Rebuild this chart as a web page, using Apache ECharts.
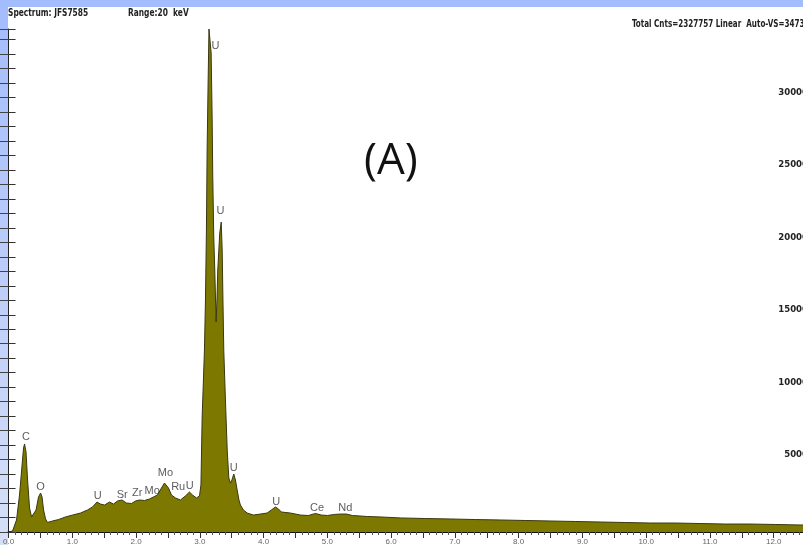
<!DOCTYPE html>
<html>
<head>
<meta charset="utf-8">
<script src="https://cdn.jsdelivr.net/npm/echarts@6/dist/echarts.min.js"></script>
<style>
  html, body { margin: 0; padding: 0; width: 803px; height: 545px; overflow: hidden; }
  body { background: linear-gradient(to bottom, #a3bcfc 0%, #bccdfa 50%, #d6e0f7 100%); position: relative; }
  #panel { position: absolute; left: 8px; top: 7px; width: 800px; height: 540px; background: #ffffff; }
  #chart { position: absolute; left: 0; top: 0; width: 820px; height: 550px; }
</style>
</head>
<body>
<div id="panel"></div>
<div id="chart"></div>
<script>
// Energy (keV) and counts
const energy = [0, 0.063, 0.125, 0.172, 0.212, 0.235, 0.251, 0.274, 0.298, 0.329, 0.361, 0.392, 0.431, 0.470, 0.502, 0.525, 0.549, 0.580, 0.611, 0.690, 0.784, 0.893, 1.003, 1.129, 1.238, 1.317, 1.387, 1.442, 1.505, 1.583, 1.646, 1.708, 1.779, 1.850, 1.928, 1.991, 2.053, 2.132, 2.210, 2.273, 2.335, 2.398, 2.445, 2.476, 2.508, 2.555, 2.618, 2.696, 2.774, 2.837, 2.884, 2.947, 2.994, 3.017, 3.036, 3.056, 3.072, 3.088, 3.103, 3.114, 3.130, 3.143, 3.158, 3.177, 3.193, 3.202, 3.218, 3.234, 3.248, 3.255, 3.268, 3.281, 3.312, 3.335, 3.350, 3.362, 3.375, 3.401, 3.429, 3.454, 3.480, 3.503, 3.532, 3.558, 3.585, 3.613, 3.636, 3.683, 3.741, 3.840, 3.950, 4.055, 4.122, 4.185, 4.232, 4.279, 4.420, 4.577, 4.702, 4.812, 4.906, 5.000, 5.110, 5.204, 5.298, 5.392, 5.627, 5.831, 6.144, 6.536, 6.928, 7.320, 7.712, 8.103, 8.495, 8.887, 9.279, 9.671, 10.063, 10.455, 10.846, 11.238, 11.630, 12.022, 12.414, 12.6];
const counts = [0, 69, 830, 2555, 4630, 5800, 6080, 5520, 3590, 1660, 1040, 1100, 1520, 2420, 2690, 2420, 1520, 900, 660, 760, 860, 1040, 1170, 1310, 1520, 1730, 2070, 1930, 1860, 2070, 1930, 2140, 2210, 2000, 1970, 2140, 2210, 2175, 2280, 2420, 2555, 3040, 3380, 3450, 3040, 2555, 2350, 2210, 2490, 2760, 2555, 2350, 2490, 3245, 7940, 10500, 12570, 16020, 20850, 26380, 31210, 34730, 34730, 33075, 28450, 24650, 20370, 18090, 15675, 14500, 16020, 18090, 20650, 21400, 19470, 16020, 12570, 9115, 5660, 3730, 3380, 3590, 4005, 3590, 2900, 2210, 1865, 1520, 1310, 1170, 1240, 1310, 1520, 1730, 1590, 1380, 1310, 1170, 1140, 1280, 1170, 1140, 1210, 1240, 1240, 1140, 1070, 1040, 970, 930, 900, 860, 830, 795, 760, 725, 690, 655, 620, 620, 585, 550, 550, 520, 485, 480];

// Peak annotations
const peakNames = ['C', 'O', 'U', 'Sr', 'Zr', 'Mo', 'Mo', 'Ru', 'U', 'U', 'U', 'U', 'U', 'Ce', 'Nd'];
const peakEnergy = [0.275, 0.502, 1.398, 1.782, 2.017, 2.252, 2.461, 2.660, 2.842, 3.245, 3.323, 3.532, 4.196, 4.838, 5.282];
const peakCounts = [6560, 3130, 2480, 2555, 2710, 2850, 4050, 3130, 3180, 33560, 22160, 4400, 2050, 1640, 1640];

// Axis settings
const xMin = 0, xMax = 12.6;
const yMax = 34730;

const chart = echarts.init(document.getElementById('chart'), null, { renderer: 'canvas' });
const narrow = "'Liberation Sans Narrow', 'DejaVu Sans Condensed', 'Liberation Sans', sans-serif";

const option = {
  animation: false,
  grid: { left: 8, right: 8, top: 29, bottom: 18, containLabel: false },
  xAxis: [
    {
      type: 'value', position: 'bottom', min: xMin, max: xMax, interval: 0.5,
      axisLine: { show: true, lineStyle: { color: '#222', width: 1 } },
      axisTick: { show: true, inside: false, length: 6, lineStyle: { color: '#333' } },
      minorTick: { show: true, splitNumber: 5, length: 3, lineStyle: { color: '#555' } },
      splitLine: { show: false },
      axisLabel: {
        show: true, fontSize: 8, color: '#666', margin: 6, fontFamily: 'Liberation Sans, sans-serif',
        formatter: v => (Math.abs(v - Math.round(v)) < 1e-6 && v <= 12) ? v.toFixed(1) : ''
      }
    },
    {
      type: 'value', position: 'top', min: xMin, max: xMax, interval: 0.5,
      axisLine: { show: true, lineStyle: { color: '#111', width: 2 } },
      axisTick: { show: true, inside: true, length: 6, lineStyle: { color: '#333' } },
      minorTick: { show: true, splitNumber: 5, length: 3, lineStyle: { color: '#555' } },
      splitLine: { show: false },
      axisLabel: { show: false }
    }
  ],
  yAxis: [
    {
      type: 'value', position: 'left', min: 0, max: yMax, interval: 1000,
      axisLine: { show: true, lineStyle: { color: '#222', width: 1 } },
      axisTick: { show: true, inside: true, length: 7, lineStyle: { color: '#333' } },
      splitLine: { show: false },
      axisLabel: { show: false }
    },
    {
      type: 'value', position: 'right', min: 0, max: yMax, interval: 1000,
      axisLine: { show: false },
      axisTick: { show: true, inside: true, length: 11, lineStyle: { color: '#444' } },
      splitLine: { show: false },
      axisLabel: {
        show: true, inside: true, margin: 4, fontSize: 9.5, fontWeight: 'bold', color: '#222',
        fontFamily: narrow, verticalAlign: 'bottom',
        formatter: v => (v > 0 && v % 5000 === 0) ? String(v) : ''
      }
    }
  ],
  series: [
    {
      type: 'line', xAxisIndex: 0, yAxisIndex: 0,
      data: energy.map((e, i) => [e, counts[i]]),
      showSymbol: false, symbol: 'none', smooth: false,
      lineStyle: { color: '#3a3810', width: 1 },
      areaStyle: { color: '#7d7900', opacity: 1 },
      clip: true, z: 2
    },
    {
      type: 'scatter', xAxisIndex: 0, yAxisIndex: 0,
      data: peakEnergy.map((e, i) => ({ value: [e, peakCounts[i]], name: peakNames[i] })),
      symbolSize: 0, silent: true, z: 5,
      label: {
        show: true, position: 'inside', formatter: p => p.name,
        fontSize: 11, color: '#333', fontFamily: 'Liberation Sans, Arial, sans-serif'
      }
    }
  ],
  graphic: [
    { type: 'text', x: 8, y: 8, scaleX: 0.83, style: { text: 'Spectrum: JFS7585', font: "bold 10px " + narrow, fill: '#222' } },
    { type: 'text', x: 128, y: 8, scaleX: 0.83, style: { text: 'Range:20  keV', font: "bold 10px " + narrow, fill: '#222' } },
    { type: 'text', x: 632, y: 19, scaleX: 0.8, style: { text: 'Total Cnts=2327757 Linear  Auto-VS=34731', font: "bold 10px " + narrow, fill: '#222' } },
    { type: 'text', x: 364, y: 139, style: { text: '(A)', font: "44px 'Open Sans', 'Liberation Sans', sans-serif", fill: '#111' } }
  ]
};
chart.setOption(option);
</script>
</body>
</html>
